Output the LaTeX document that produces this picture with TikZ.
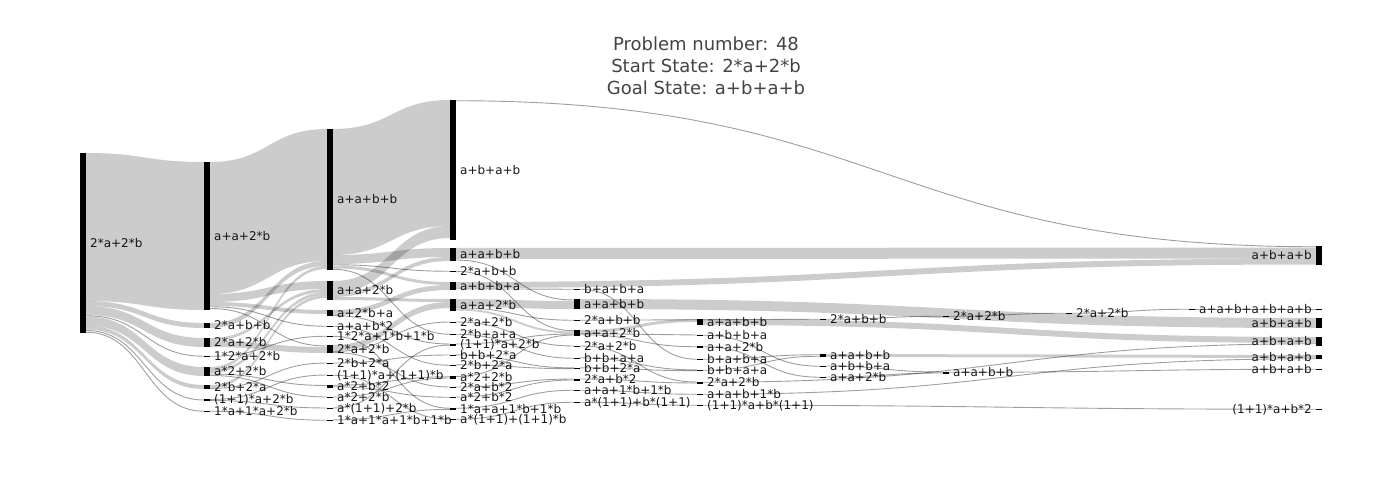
\documentclass[tikz,border=0pt]{standalone}
\usepackage{fontspec}
\setmainfont{DejaVu Sans}
\usetikzlibrary{calc}
\definecolor{txt}{HTML}{444444}
\newcommand\lblfont{\fontsize{12}{14}\selectfont}
\tikzset{
 bar/.style={fill=black, draw=none, inner sep=0pt, outer sep=0pt, minimum width=6pt, anchor=north west},
 lbl/.style={font=\lblfont, text=black!90, inner sep=0pt, anchor=west},
 lbll/.style={font=\lblfont, text=black!90, inner sep=0pt, anchor=east},
 flow/.style={fill=black, fill opacity=0.2, draw=none},
 thinflow/.style={draw=black, draw opacity=0.38, line width=0.9pt},
}
\newcommand\snode[5]{\node[bar, minimum height=#4pt] (#1) at (#2,#3) {};
 \node[lbl] (#1t) at ([xshift=4pt]#1.east) {#5};}
\newcommand\enode[5]{\node[bar, minimum height=#4pt] (#1) at (#2,#3) {};
 \node[lbll] (#1t) at ([xshift=-4pt]#1.west) {#5};}
\newcommand\lnk[5]{\path[flow] let \p1=(#1.north east), \p2=(#4.north west), \n1={0.5*\x1+0.5*\x2} in
 (\x1,\y1-#2pt) .. controls (\n1,\y1-#2pt) and (\n1,\y2-#5pt) .. (\x2,\y2-#5pt)
 -- (\x2,\y2-#5pt-#3pt) .. controls (\n1,\y2-#5pt-#3pt) and (\n1,\y1-#2pt-#3pt) .. (\x1,\y1-#2pt-#3pt) -- cycle;}
\newcommand\tlnk[5]{\path[thinflow] let \p1=(#1.north east), \p2=(#4.north west), \n1={0.5*\x1+0.5*\x2} in
 (\x1,\y1-#2pt-0.5*#3pt) .. controls (\n1,\y1-#2pt-0.5*#3pt) and (\n1,\y2-#5pt-0.5*#3pt) .. (\x2,\y2-#5pt-0.5*#3pt);}
\begin{document}
\begin{tikzpicture}[x=1pt,y=-1pt]
\useasboundingbox (0,0) rectangle (1400,500);
\fill[white] (0,0) rectangle (1400,500);
\node[font=\fontsize{18}{22}\selectfont, text=txt, align=center] (title) at (706,66)
 {Problem number: 48\\Start State: 2*a+2*b\\Goal State: a+b+a+b};
% column 0
\snode{N0}{80}{153}{180}{2*a+2*b}
% column 1
\snode{A1}{204}{162}{148}{a+a+2*b}
\snode{B1}{204}{323}{5}{2*a+b+b}
\snode{C1}{204}{338}{9}{2*a+2*b}
\snode{D1}{204}{355.5}{1.5}{1*2*a+2*b}
\snode{E1}{204}{367}{9}{a*2+2*b}
\snode{F1}{204}{385}{4}{2*b+2*a}
\snode{G1}{204}{399}{2}{(1+1)*a+2*b}
\snode{H1}{204}{410.5}{1.5}{1*a+1*a+2*b}
% column 2
\snode{A2}{327}{129}{141}{a+a+b+b}
\snode{B2}{327}{281}{19}{a+a+2*b}
\snode{C2}{327}{310}{6}{a+2*b+a}
\snode{D2}{327}{325.5}{1.5}{a+a+b*2}
\snode{E2}{327}{335.5}{1.5}{1*2*a+1*b+1*b}
\snode{F2}{327}{345}{8}{2*a+2*b}
\snode{G2}{327}{362.5}{1.5}{2*b+2*a}
\snode{H2}{327}{374.5}{1.5}{(1+1)*a+(1+1)*b}
\snode{I2}{327}{384.5}{3}{a*2+b*2}
\snode{J2}{327}{396.5}{1.5}{a*2+2*b}
\snode{K2}{327}{407.5}{1.5}{a*(1+1)+2*b}
\snode{L2}{327}{419.5}{1.5}{1*a+1*a+1*b+1*b}
% column 3
\snode{A3}{450}{100}{140}{a+b+a+b}
\snode{B3}{450}{248}{13}{a+a+b+b}
\snode{C3}{450}{270.5}{1.5}{2*a+b+b}
\snode{D3}{450}{282}{8}{a+b+b+a}
\snode{E3}{450}{299}{12}{a+a+2*b}
\snode{F3}{450}{321.5}{1.5}{2*a+2*b}
\snode{G3}{450}{333.5}{1.5}{2*b+a+a}
\snode{H3}{450}{343.5}{2}{(1+1)*a+2*b}
\snode{I3}{450}{354.5}{1.5}{b+b+2*a}
\snode{J3}{450}{364.5}{1.5}{2*b+2*a}
\snode{K3}{450}{376}{2.5}{a*2+2*b}
\snode{L3}{450}{386.5}{1.5}{2*a+b*2}
\snode{M3}{450}{396.5}{1.5}{a*2+b*2}
\snode{N3}{450}{407.5}{2.3}{1*a+a+1*b+1*b}
\snode{O3}{450}{418.5}{1.5}{a*(1+1)+(1+1)*b}
% column 4
\snode{A4}{574}{288.5}{1.5}{b+a+b+a}
\snode{B4}{574}{299}{10}{a+a+b+b}
\snode{C4}{574}{319.5}{1.5}{2*a+b+b}
\snode{D4}{574}{330}{5.5}{a+a+2*b}
\snode{E4}{574}{345.5}{1.5}{2*a+2*b}
\snode{F4}{574}{357.5}{1.5}{b+b+a+a}
\snode{G4}{574}{367.5}{1.6}{b+b+2*a}
\snode{H4}{574}{378.5}{2}{2*a+b*2}
\snode{I4}{574}{389.5}{1.5}{a+a+1*b+1*b}
\snode{J4}{574}{401.5}{1.5}{a*(1+1)+b*(1+1)}
% column 5
\snode{A5}{697}{319}{6}{a+a+b+b}
\snode{B5}{697}{334.5}{1.5}{a+b+b+a}
\snode{C5}{697}{346}{2}{a+a+2*b}
\snode{D5}{697}{358.5}{1.5}{b+a+b+a}
\snode{E5}{697}{369.5}{1.6}{b+b+a+a}
\snode{F5}{697}{381.5}{2}{2*a+2*b}
\snode{G5}{697}{393.5}{1.5}{a+a+b+1*b}
\snode{H5}{697}{404.5}{1.5}{(1+1)*a+b*(1+1)}
% column 6
\snode{A6}{820}{318.5}{1.5}{2*a+b+b}
\snode{B6}{820}{354}{3}{a+a+b+b}
\snode{C6}{820}{365.5}{1.5}{a+b+b+a}
\snode{D6}{820}{376.5}{1.5}{a+a+2*b}
% column 7
\snode{A7}{943}{315.5}{1.5}{2*a+2*b}
\snode{B7}{943}{371.5}{2}{a+a+b+b}
% column 8
\snode{A8}{1066}{312.5}{1.5}{2*a+2*b}
% column 9
\snode{A9}{1189}{308.5}{1.5}{a+a+b+a+b+a+b}
% column 10
\enode{A10}{1316}{246}{19}{a+b+a+b}
\node[bar, minimum height=1.5pt] (B10) at (1316,308.5) {};
\enode{C10}{1316}{318}{10}{a+b+a+b}
\enode{D10}{1316}{337}{9}{a+b+a+b}
\enode{E10}{1316}{355}{4}{a+b+a+b}
\enode{F10}{1316}{368.5}{1.5}{a+b+a+b}
\enode{G10}{1316}{408.5}{1.5}{(1+1)*a+b*2}
% links from column 0
\lnk{N0}{0}{148}{A1}{0}
\lnk{N0}{148}{5}{B1}{0}
\lnk{N0}{153}{9}{C1}{0}
\tlnk{N0}{162}{1.5}{D1}{0}
\lnk{N0}{163.5}{9}{E1}{0}
\lnk{N0}{172.5}{4}{F1}{0}
\tlnk{N0}{176.5}{2}{G1}{0}
\tlnk{N0}{178.5}{1.5}{H1}{0}
% links from column 1
\lnk{A1}{0}{132}{A2}{0}
\lnk{A1}{132}{8}{B2}{0}
\lnk{A1}{140}{4}{C2}{0}
\tlnk{A1}{144}{1.5}{D2}{0}
\tlnk{A1}{145.5}{2}{F2}{0}
\lnk{B1}{0}{5}{A2}{132}
\lnk{C1}{0}{3}{B2}{8}
\lnk{C1}{3}{6}{F2}{2}
\tlnk{D1}{0}{1.5}{E2}{0}
\lnk{E1}{0}{3}{A2}{137}
\lnk{E1}{3}{3}{B2}{11}
\tlnk{E1}{6}{2}{I2}{0}
\tlnk{E1}{8}{1}{J2}{0}
\lnk{F1}{0}{3}{B2}{14}
\tlnk{F1}{3}{1}{G2}{0}
\tlnk{G1}{0}{1}{H2}{0}
\tlnk{G1}{1}{1}{K2}{0}
\tlnk{H1}{0}{1.5}{L2}{0}
% links from column 2
\lnk{A2}{0}{126}{A3}{0}
\lnk{A2}{126}{9}{B3}{0}
\tlnk{A2}{135}{1.5}{C3}{0}
\lnk{A2}{136.5}{3}{D3}{0}
\tlnk{A2}{139.5}{1.5}{G3}{0}
\lnk{B2}{0}{12}{A3}{126}
\lnk{B2}{12}{4}{B3}{9}
\lnk{B2}{16}{3}{E3}{0}
\lnk{C2}{0}{5}{D3}{3}
\tlnk{C2}{5}{1}{H3}{0}
\tlnk{D2}{0}{1.5}{J3}{0}
\tlnk{E2}{0}{1.5}{N3}{0}
\lnk{F2}{0}{6}{E3}{3}
\tlnk{F2}{6}{1}{F3}{0}
\tlnk{F2}{7}{1}{L3}{0}
\tlnk{G2}{0}{1}{I3}{0}
\tlnk{H2}{0}{1.5}{O3}{0}
\tlnk{I2}{0}{1.5}{K3}{0}
\tlnk{I2}{1.5}{1.5}{M3}{0}
\tlnk{J2}{0}{1}{K3}{1.5}
\tlnk{K2}{0}{1}{H3}{1}
\tlnk{L2}{0}{0.8}{N3}{1.5}
% links from column 3
\tlnk{A3}{0}{1.5}{A10}{0}
\lnk{B3}{0}{11}{A10}{1.5}
\tlnk{B3}{11}{2}{B4}{0}
\tlnk{C3}{0}{1.5}{D4}{0}
\lnk{D3}{0}{6}{A10}{12.5}
\tlnk{D3}{6}{1.5}{A4}{0}
\lnk{E3}{0}{8}{B4}{2}
\tlnk{E3}{8}{1.5}{C4}{0}
\lnk{E3}{9.5}{2}{D4}{1.5}
\tlnk{F3}{0}{1}{E4}{0}
\tlnk{G3}{0}{1.5}{F4}{0}
\tlnk{H3}{0}{1}{D4}{3.5}
\tlnk{I3}{0}{0.8}{G4}{0}
\tlnk{J3}{0}{0.8}{G4}{0.8}
\tlnk{K3}{0}{1}{D4}{4.5}
\tlnk{L3}{0}{1}{H4}{0}
\tlnk{M3}{0}{1}{H4}{1}
\tlnk{N3}{0}{1.5}{I4}{0}
\tlnk{O3}{0}{1.5}{J4}{0}
% links from column 4
\tlnk{A4}{0}{1.5}{D5}{0}
\lnk{B4}{0}{10}{C10}{0}
\tlnk{C4}{0}{1.5}{A6}{0}
\lnk{D4}{0}{3}{A5}{0}
\tlnk{D4}{3}{1}{B5}{0}
\tlnk{D4}{4}{1.5}{C5}{0}
\tlnk{E4}{0}{1}{F5}{0}
\tlnk{F4}{0}{0.8}{E5}{0}
\tlnk{G4}{0}{0.8}{E5}{0.8}
\tlnk{H4}{0}{1}{F5}{1}
\tlnk{I4}{0}{1.5}{G5}{0}
\tlnk{J4}{0}{1.5}{H5}{0}
% links from column 5
\lnk{A5}{0}{6}{D10}{0}
\tlnk{B5}{0}{1.5}{C6}{0}
\tlnk{C5}{0}{1.5}{D6}{0}
\tlnk{D5}{0}{1.5}{B6}{0}
\tlnk{E5}{0}{1.5}{B6}{1.5}
\tlnk{F5}{0}{1.5}{D10}{6}
\tlnk{G5}{0}{1.5}{E10}{3}
\tlnk{H5}{0}{1.5}{G10}{0}
% links from columns 6-9
\tlnk{A6}{0}{1.5}{A7}{0}
\lnk{B6}{0}{3}{E10}{0}
\tlnk{C6}{0}{1}{B7}{0}
\tlnk{D6}{0}{1}{B7}{1}
\tlnk{A7}{0}{1.5}{A8}{0}
\tlnk{B7}{0}{1.5}{F10}{0}
\tlnk{A8}{0}{1.5}{A9}{0}
\tlnk{A9}{0}{1.5}{B10}{0}
\end{tikzpicture}
\end{document}
